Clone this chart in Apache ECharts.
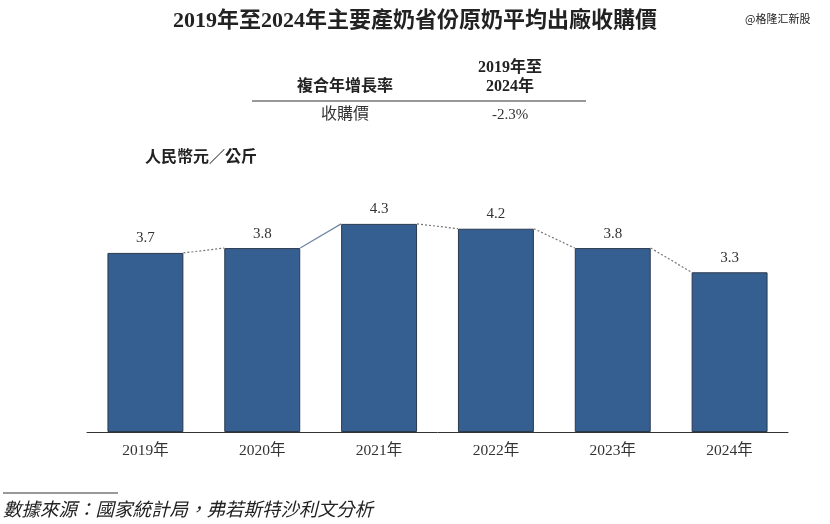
<!DOCTYPE html>
<html><head><meta charset="utf-8">
<script src="https://cdn.jsdelivr.net/npm/echarts@6/dist/echarts.min.js"></script>
<style>html,body{margin:0;padding:0;background:#fff}#c{width:830px;height:524px}</style>
</head><body><div id="c"></div>
<script>
var years = ['2019年','2020年','2021年','2022年','2023年','2024年'];
var prices = [3.7, 3.8, 4.3, 4.2, 3.8, 3.3];
var cagrLabel = '-2.3%';

var serif = '"Liberation Serif","DejaVu Serif","Noto Sans CJK TC",serif';
var cjk = '"Liberation Serif","Noto Sans CJK TC",serif';
var chart = echarts.init(document.getElementById('c'));

var connectors = [];
for (var i = 0; i < prices.length - 1; i++) connectors.push([i, prices[i], prices[i+1]]);

chart.setOption({
  animation: false,
  title: {
    text: '2019年至2024年主要產奶省份原奶平均出廠收購價',
    left: 'center', top: 5,
    textStyle: {fontFamily: cjk, fontSize: 22, fontWeight: 'bold', color: '#222'}
  },
  grid: {left: 87, right: 42, top: 190, bottom: 92},
  xAxis: {
    type: 'category', data: years,
    axisLine: {lineStyle: {color: '#333', width: 1}},
    axisTick: {show: false},
    axisLabel: {fontFamily: cjk, fontSize: 15.5, color: '#333', margin: 11}
  },
  yAxis: {type: 'value', min: 0, max: 5, show: false, splitLine: {show: false}},
  series: [
    {
      type: 'bar', data: prices, barCategoryGap: '35%',
      itemStyle: {color: '#365f91', borderColor: '#2b3a4d', borderWidth: 1},
      label: {show: true, position: 'top', distance: 7, fontFamily: serif, fontSize: 15, color: '#333',
        formatter: function(p){return p.value.toFixed(1);}}
    },
    {
      type: 'custom', data: connectors, z: 5,
      renderItem: function(params, api) {
        var idx = api.value(0);
        var a = api.coord([idx, api.value(1)]);
        var b = api.coord([idx + 1, api.value(2)]);
        var bw = api.size([1, 0])[0] * 0.65;
        var solid = api.value(2) - api.value(1) > 0.3;
        return {
          type: 'line',
          shape: {x1: a[0] + bw/2, y1: a[1], x2: b[0] - bw/2, y2: b[1]},
          style: {stroke: solid ? '#6f86a3' : '#777', lineWidth: 1.2, lineDash: solid ? null : [2, 2]}
        };
      }
    }
  ],
  graphic: [
    {type: 'text', left: 745, top: 13, style: {text: '@格隆汇新股', fontSize: 11, fontFamily: '"Noto Sans CJK SC",sans-serif', fill: '#222'}},
    {type: 'text', x: 345, y: 87, style: {text: '複合年增長率', fontSize: 16, fontWeight: 'bold', fontFamily: cjk, fill: '#222', align: 'center', verticalAlign: 'middle'}},
    {type: 'text', x: 510, y: 68, style: {text: '2019年至', fontSize: 16, fontWeight: 'bold', fontFamily: cjk, fill: '#222', align: 'center', verticalAlign: 'middle'}},
    {type: 'text', x: 510, y: 87, style: {text: '2024年', fontSize: 16, fontWeight: 'bold', fontFamily: cjk, fill: '#222', align: 'center', verticalAlign: 'middle'}},
    {type: 'line', shape: {x1: 252, y1: 101, x2: 586, y2: 101}, style: {stroke: '#333', lineWidth: 1.2}},
    {type: 'text', x: 345, y: 115, style: {text: '收購價', fontSize: 16, fontFamily: cjk, fill: '#333', align: 'center', verticalAlign: 'middle'}},
    {type: 'text', x: 510, y: 115, style: {text: cagrLabel, fontSize: 15, fontFamily: serif, fill: '#333', align: 'center', verticalAlign: 'middle'}},
    {type: 'text', x: 145, y: 158, style: {text: '人民幣元／公斤', fontSize: 16, fontWeight: 'bold', fontFamily: cjk, fill: '#222', verticalAlign: 'middle'}},
    {type: 'line', shape: {x1: 3, y1: 493, x2: 118, y2: 493}, style: {stroke: '#333', lineWidth: 1}},
    {type: 'text', x: 3, y: 511, style: {text: '數據來源：國家統計局，弗若斯特沙利文分析', fontSize: 18.5, fontStyle: 'italic', fontFamily: cjk, fill: '#222', verticalAlign: 'middle'}}
  ]
});
</script></body></html>
